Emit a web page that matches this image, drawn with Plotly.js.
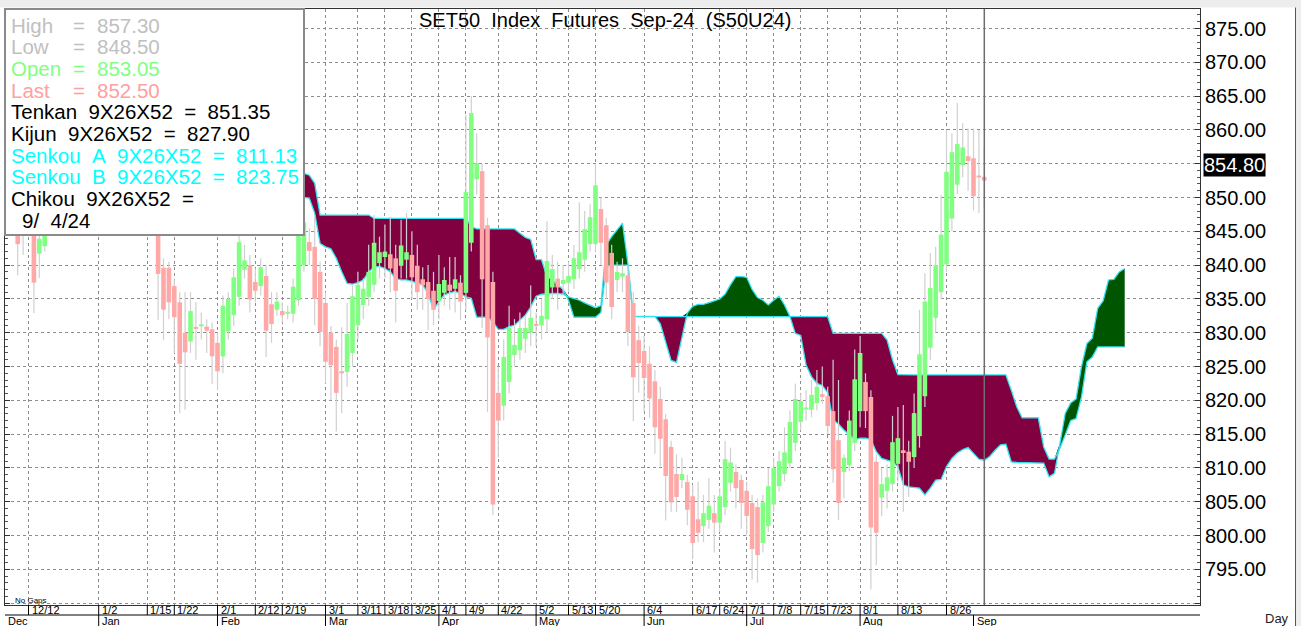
<!DOCTYPE html>
<html><head><meta charset="utf-8">
<script src="https://cdn.plot.ly/plotly-3.0.1.min.js"></script>
<style>html,body{margin:0;padding:0;background:#fff;overflow:hidden}#chart{width:1301px;height:626px}</style>
</head><body><div id="chart"></div>
<script>
// ---------------- DATA ----------------
const dates = [
 '12/4','12/6','12/7','12/8','12/12','12/13','12/14','12/15','12/18','12/19','12/20','12/21','12/22','12/25','12/26','12/27','12/28',
 '1/2','1/3','1/4','1/5','1/8','1/9','1/10','1/11','1/12','1/15','1/16','1/17','1/18','1/19','1/22','1/23','1/24','1/25','1/26','1/29','1/30','1/31',
 '2/1','2/2','2/5','2/6','2/7','2/8','2/9','2/12','2/13','2/14','2/15','2/16','2/19','2/20','2/21','2/22','2/23','2/27','2/28','2/29',
 '3/1','3/4','3/5','3/6','3/7','3/8','3/11','3/12','3/13','3/14','3/15','3/18','3/19','3/20','3/21','3/22','3/25','3/26','3/27','3/28','3/29',
 '4/1','4/2','4/3','4/4','4/5','4/9','4/10','4/11','4/17','4/18','4/19','4/22','4/23','4/24','4/25','4/26','4/29','4/30',
 '5/2','5/3','5/7','5/8','5/9','5/10','5/13','5/14','5/15','5/16','5/17','5/20','5/21','5/23','5/24','5/27','5/28','5/29','5/30','5/31',
 '6/4','6/5','6/6','6/7','6/10','6/11','6/12','6/13','6/14','6/17','6/18','6/19','6/20','6/21','6/24','6/25','6/26','6/27','6/28',
 '7/1','7/2','7/3','7/4','7/5','7/8','7/9','7/10','7/11','7/12','7/15','7/16','7/17','7/18','7/19','7/23','7/24','7/25','7/26','7/30','7/31',
 '8/1','8/2','8/5','8/6','8/7','8/8','8/9','8/13','8/14','8/15','8/16','8/19','8/20','8/21','8/22','8/23','8/26','8/27','8/28','8/29','8/30',
 '9/2','9/3','9/4'
];

const openP = [
 848.0,847.0,846.5,845.2,846.5,846.8,841.7,842.8,846.5,848.0,
 850.5,852.0,854.0,852.5,857.0,858.5,857.0,855.0,856.0,852.0,
 853.5,852.0,853.0,851.0,849.0,850.5,849.0,848.5,847.0,839.6,
 839.6,836.9,834.5,830.0,828.7,830.8,831.0,830.9,830.5,828.5,
 826.5,830.2,832.6,835.3,839.3,840.0,837.5,836.9,838.4,834.2,
 833.4,833.2,832.9,832.8,834.8,840.0,843.4,842.7,839.0,834.4,
 830.0,827.9,824.3,824.2,827.0,831.1,834.1,835.3,837.1,840.3,
 841.2,841.6,841.0,839.9,840.8,841.5,839.9,837.9,837.5,836.2,
 834.7,835.9,837.1,836.5,837.4,835.9,843.3,852.7,853.9,845.9,
 837.5,821.1,819.2,822.7,826.7,827.4,829.1,830.0,831.3,831.1,
 832.0,836.7,838.0,837.2,837.4,837.9,839.4,840.8,843.1,843.1,
 848.3,845.9,841.8,837.8,838.3,838.5,834.4,828.9,827.3,825.4,
 822.8,820.2,817.2,813.1,809.1,808.2,807.9,805.8,802.4,801.4,
 802.3,803.3,801.9,804.2,807.8,809.4,808.2,806.6,804.8,804.2,
 798.9,801.4,804.6,807.3,809.1,810.7,813.7,816.8,818.7,818.6,
 819.6,820.9,820.6,818.4,814.1,809.4,810.4,813.7,818.4,822.7,
 820.5,810.9,805.6,806.6,807.6,810.6,812.6,812.4,811.6,814.7,
 820.6,827.8,832.2,836.0,840.1,846.9,851.9,854.8,856.1,855.8,
 853.2,853.05
];
const highP = [
 850.0,849.0,848.0,847.0,848.5,847.5,845.5,847.5,849.0,851.0,
 853.0,855.0,856.0,857.5,860.0,861.0,859.0,858.0,857.5,855.0,
 856.0,854.5,855.0,853.0,852.0,853.0,851.5,850.0,848.5,841.0,
 840.5,838.0,836.0,836.0,836.0,834.5,833.0,832.0,831.5,830.0,
 835.5,836.0,839.5,846.5,843.0,841.5,839.5,841.0,840.0,836.0,
 836.0,834.5,834.0,838.0,847.0,849.0,845.5,847.0,840.5,836.0,
 831.0,829.0,830.8,834.4,837.0,839.0,838.0,843.0,847.4,844.2,
 846.0,847.1,843.0,846.7,847.7,845.0,843.0,839.7,840.0,839.0,
 841.5,839.7,841.2,841.2,838.5,862.2,865.0,859.5,855.0,847.0,
 839.0,825.0,829.0,834.0,832.0,833.0,832.5,837.0,833.0,835.0,
 846.5,841.5,840.5,840.0,840.5,843.0,849.3,848.0,849.0,854.9,
 850.0,847.0,843.0,840.5,841.0,840.0,836.0,831.0,829.5,828.0,
 824.5,822.0,818.0,814.0,812.0,811.5,809.0,807.5,808.0,806.0,
 808.5,806.0,807.0,814.0,813.0,810.5,809.0,808.0,806.0,805.5,
 806.0,810.0,811.5,812.5,816.0,818.5,822.5,821.0,821.5,823.0,
 824.5,825.0,822.0,826.0,823.0,812.0,818.5,827.5,829.5,824.0,
 821.5,812.0,810.0,810.5,817.7,819.0,819.3,814.0,821.0,833.4,
 838.8,841.8,842.7,850.4,860.0,859.5,864.0,861.0,860.2,860.2,
 860.0,857.30
];
const lowP = [
 845.5,845.2,838.5,841.5,845.3,832.9,838.1,842.0,845.5,846.5,
 849.0,850.5,851.0,852.0,855.0,856.0,853.0,852.5,851.0,849.5,
 851.0,849.0,850.5,847.5,847.0,848.0,846.5,846.0,831.9,828.9,
 832.0,827.0,818.1,818.6,827.0,826.0,829.0,827.0,822.4,821.5,
 824.0,829.0,831.0,834.0,838.0,833.0,834.5,835.5,826.4,828.5,
 832.5,831.5,832.0,831.5,834.0,839.0,840.0,831.1,828.0,822.5,
 820.0,815.4,818.1,822.0,825.0,829.0,832.0,834.0,836.0,838.0,
 838.0,836.0,831.5,838.0,838.0,835.0,833.4,833.4,830.4,831.1,
 832.0,834.0,833.4,833.0,831.9,833.3,842.0,850.4,830.7,818.3,
 803.0,811.5,817.0,821.0,825.0,826.0,827.0,828.0,828.0,829.0,
 830.0,835.0,833.4,835.5,836.0,836.5,838.0,839.0,842.0,842.0,
 840.0,835.0,832.0,836.0,836.0,828.0,816.9,821.1,818.3,817.4,
 812.1,810.2,802.2,803.5,803.5,807.0,801.5,796.5,799.0,799.0,
 801.0,797.5,800.5,803.0,806.5,804.0,801.0,800.0,793.5,793.0,
 797.5,800.5,803.5,806.5,808.0,810.0,812.5,815.5,817.0,817.5,
 818.5,819.5,815.0,807.8,802.3,805.5,809.5,812.5,816.0,815.9,
 792.0,795.6,802.9,804.0,806.5,808.0,803.5,805.7,810.0,813.0,
 819.0,826.0,830.0,835.0,839.0,845.0,850.5,853.0,851.0,848.1,
 847.7,848.50
];
const closeP = [
 847.0,846.0,843.1,846.5,847.5,837.4,843.9,846.2,848.2,850.5,
 852.0,854.3,852.5,856.8,858.5,857.0,854.5,856.5,852.0,853.8,
 851.8,853.0,851.2,849.0,850.5,849.2,848.5,847.5,838.7,833.4,
 834.5,832.3,825.4,827.1,833.2,830.6,831.2,830.3,826.5,824.3,
 834.0,835.0,838.2,843.4,840.7,834.9,836.2,839.7,830.3,831.3,
 834.6,832.6,833.0,836.8,845.6,846.3,842.1,835.0,830.1,825.7,
 825.2,821.1,824.0,829.8,835.4,837.1,836.5,839.0,843.3,841.9,
 842.0,839.5,836.2,842.9,841.9,838.2,836.0,837.0,835.0,833.4,
 837.2,837.8,836.2,837.9,834.6,850.8,862.5,855.1,837.9,829.3,
 804.6,817.0,826.4,830.7,828.2,830.7,830.7,832.2,831.0,832.5,
 840.6,839.4,836.7,837.8,838.4,841.0,841.9,845.3,847.1,851.8,
 843.3,837.4,833.8,839.0,838.8,830.1,823.4,825.5,823.3,820.3,
 816.0,814.3,808.8,804.9,805.7,809.1,803.8,798.9,800.4,803.3,
 804.4,801.9,805.8,811.3,810.8,807.0,804.8,802.9,798.0,797.1,
 804.9,807.3,810.0,811.0,812.3,816.8,820.2,819.9,818.9,820.8,
 822.0,820.5,816.2,809.8,804.8,811.5,817.0,823.1,827.0,818.4,
 801.2,800.4,807.6,808.6,813.8,814.4,812.2,810.9,818.1,826.8,
 834.6,836.6,840.0,844.5,853.8,856.7,857.9,857.4,855.4,850.2,
 853.0,852.50
];

// Ichimoku cloud (plotted 26 sessions ahead); last value sits 26 sessions after the last candle
const cloudShift = 26;
const senkouA = [
 850.5,850.4,850.3,850.2,850.1,850.1,849.9,847.7,843.2,842.7,
 842.4,841.0,839.0,837.3,837.2,837.4,837.8,839.0,839.7,839.8,
 839.5,839.0,838.0,837.8,837.8,837.6,837.4,837.1,835.8,833.4,
 834.6,835.6,835.9,836.1,835.8,835.3,835.1,832.3,832.3,832.3,
 831.6,830.5,830.5,830.9,831.1,831.9,832.6,833.8,835.4,835.7,
 835.8,835.8,835.8,835.7,835.3,835.1,834.8,834.4,834.0,833.7,
 834.0,843.0,844.2,845.2,846.2,840.2,832.4,832.4,832.4,832.4,
 832.4,831.3,828.4,825.9,825.6,829.2,832.9,833.9,834.2,834.2,
 834.4,834.7,835.0,835.7,837.1,838.3,838.3,838.2,836.4,835.2,
 834.8,834.1,834.8,835.4,834.1,832.4,829.9,829.6,825.2,823.5,
 822.5,822.2,821.1,817.1,816.5,815.6,814.9,814.2,814.4,814.4,
 814.2,812.4,811.4,811.2,810.9,810.2,807.5,807.2,807.1,807.0,
 806.0,807.0,808.2,808.3,810.2,811.4,812.2,812.7,813.0,812.2,
 811.3,811.13,811.7,812.6,813.4,813.5,810.9,810.8,810.8,810.8,
 810.8,810.8,810.7,808.7,809.2,813.6,818.1,819.6,820.2,825.0,
 828.4,829.2,833.6,834.7,837.8,837.9,839.0,839.5
];
const senkouB = [
 853.6,853.6,853.6,853.6,853.6,853.58,853.3,852.1,847.4,847.4,
 847.4,847.4,847.4,847.4,847.4,847.4,847.4,847.4,846.9,846.9,
 846.9,846.9,846.9,846.9,846.9,846.9,846.9,846.9,846.9,846.9,
 846.9,846.9,846.9,846.9,846.9,846.9,845.7,845.35,845.35,845.35,
 845.35,845.35,845.35,845.35,845.35,844.7,844.1,843.8,840.8,840.8,
 838.3,837.8,837.1,836.4,834.8,832.3,832.3,832.3,832.3,832.3,
 833.0,839.8,840.0,840.0,840.0,840.0,832.37,832.37,832.37,832.37,
 832.37,832.37,832.37,832.37,832.37,832.37,832.37,832.37,832.37,832.37,
 832.37,832.37,832.37,832.37,832.37,832.37,832.37,832.37,832.37,832.37,
 832.37,832.37,832.37,832.37,832.37,832.37,832.37,832.37,832.37,832.37,
 832.37,832.37,832.37,829.9,829.9,829.9,829.9,829.9,829.9,829.9,
 829.9,829.9,829.9,828.9,826.0,823.8,823.75,823.75,823.75,823.75,
 823.75,823.75,823.75,823.75,823.75,823.75,823.75,823.75,823.75,823.75,
 823.75,823.75,823.75,823.75,823.75,823.75,821.5,819.05,817.4,817.4,
 817.4,817.4,813.1,811.3,811.3,812.9,814.9,817.0,817.3,820.5,
 825.7,826.4,827.9,827.9,827.9,827.9,827.9,827.9
];

// axis labels
const dayTickLabels = ['12/12','1/2','1/15','1/22','2/1','2/12','2/19','3/1','3/11','3/18','3/25','4/1','4/9','4/22',
  '5/2','5/13','5/20','6/4','6/17','6/24','7/1','7/8','7/15','7/23','8/1','8/13','8/26'];
const monthNames  = ['Jan','Feb','Mar','Apr','May','Jun','Jul','Aug','Sep'];
const monthStarts = ['1/2','2/1','3/1','4/1','5/2','6/4','7/1','8/1','9/2'];
const firstMonthName = 'Dec';
const yTickValues = [790,795,800,805,810,815,820,825,830,835,840,845,850,855,860,865,870,875];
const lastPrice = 854.80;

// legend panel
const statNames  = ['High','Low','Open','Last'];
const statValues = [857.30, 848.50, 853.05, 852.50];
const statColors = ['#c0c0c0','#c0c0c0','#80ff80','#ffa0a0'];
const indNames   = ['Tenkan','Kijun','Senkou\u00a0\u00a0A','Senkou\u00a0\u00a0B','Chikou'];
const indParams  = '9X26X52';
const indValues  = [851.35, 827.90, 811.13, 823.75, null];
const indColors  = ['#000000','#000000','#00ffff','#00ffff','#000000'];
const chikouDate = '9/\u00a0\u00a04/24';
const chartTitle = 'SET50\u00a0\u00a0Index\u00a0\u00a0Futures\u00a0\u00a0Sep-24\u00a0\u00a0(S50U24)';

// ---------------- GEOMETRY (pixels of the frame) ----------------
const PL = 5, PR = 1200, PT = 9, PB = 605;
const px = x => (x - PL) / (PR - PL);
const py = y => (PB - y) / (PB - PT);
const SP = '\u00a0\u00a0';

const idx = dates.map((d, k) => k);
const cloudStart = dates.length - 1 + cloudShift - (senkouA.length - 1);
const cloudX = senkouA.map((v, j) => cloudStart + j);
const cloudTop = senkouA.map((a, j) => Math.max(a, senkouB[j]));

// candle segments (wicks + bodies) built from OHLC arrays
const wickX = [], wickY = [], upX = [], upY = [], dnX = [], dnY = [];
idx.forEach(k => {
  wickX.push(k, k, null); wickY.push(lowP[k], highP[k], null);
  const o = openP[k], c = closeP[k];
  let lo = Math.min(o, c), hi = Math.max(o, c);
  if (hi - lo < 0.28) { const m = (hi + lo) / 2; lo = m - 0.14; hi = m + 0.14; }
  if (c >= o) { upX.push(k, k, null); upY.push(lo, hi, null); }
  else { dnX.push(k, k, null); dnY.push(lo, hi, null); }
});

const none = {width: 0};
const traces = [
  {x: cloudX, y: senkouA, mode: 'lines', line: none, hoverinfo: 'skip'},
  {x: cloudX, y: cloudTop, mode: 'lines', line: none, fill: 'tonexty', fillcolor: '#800040', hoverinfo: 'skip'},
  {x: cloudX, y: senkouB, mode: 'lines', line: none, hoverinfo: 'skip'},
  {x: cloudX, y: cloudTop, mode: 'lines', line: none, fill: 'tonexty', fillcolor: '#005500', hoverinfo: 'skip'},
  {x: cloudX, y: senkouA, mode: 'lines', line: {color: '#33e3ef', width: 1.3}, hoverinfo: 'skip'},
  {x: cloudX, y: senkouB, mode: 'lines', line: {color: '#33e3ef', width: 1.3}, hoverinfo: 'skip'},
  {x: wickX, y: wickY, mode: 'lines', line: {color: '#d0d0d0', width: 1.2}, connectgaps: false, hoverinfo: 'skip'},
  {x: upX, y: upY, mode: 'lines', line: {color: '#80ff80', width: 4.6}, connectgaps: false, hoverinfo: 'skip'},
  {x: dnX, y: dnY, mode: 'lines', line: {color: '#ffa8a8', width: 4.6}, connectgaps: false, hoverinfo: 'skip'}
];

const tickIdx = dayTickLabels.map(d => dates.indexOf(d));
const monthIdx = monthStarts.map(d => dates.indexOf(d));
const xr0 = dates.indexOf('12/12') + (PL - 28.5) / 5.4;
const xr1 = dates.indexOf('12/12') + (PR - 28.5) / 5.4;

const annotations = [];
const shapes = [];
const labFont = {family: 'Liberation Sans, Arial, sans-serif', size: 11, color: '#000'};

// top title
annotations.push({xref: 'paper', yref: 'paper', x: px(604.5), y: py(20), text: chartTitle, showarrow: false,
  xanchor: 'center', yanchor: 'middle', font: {family: 'Liberation Sans, Arial, sans-serif', size: 20, color: '#000'}});

// legend box
shapes.push({type: 'rect', xref: 'paper', yref: 'paper', x0: px(5), x1: px(304), y0: py(235), y1: py(9),
  fillcolor: '#ffffff', line: {color: '#8a8a8a', width: 2}, layer: 'above'});
const rowY = [25.5, 47, 68.8, 90.3, 111.7, 133.3, 155.5, 176.7, 198.8, 220.5];
const lf = c => ({family: 'Liberation Sans, Arial, sans-serif', size: 20.5, color: c});
statNames.forEach((n, r) => {
  annotations.push({xref: 'paper', yref: 'paper', x: px(8.5), y: py(rowY[r]), text: n, showarrow: false, xanchor: 'left', yanchor: 'middle', font: lf(statColors[r])});
  annotations.push({xref: 'paper', yref: 'paper', x: px(70.5), y: py(rowY[r]), text: '=', showarrow: false, xanchor: 'left', yanchor: 'middle', font: lf(statColors[r])});
  annotations.push({xref: 'paper', yref: 'paper', x: px(94.5), y: py(rowY[r]), text: statValues[r].toFixed(2), showarrow: false, xanchor: 'left', yanchor: 'middle', font: lf(statColors[r])});
});
indNames.forEach((n, j) => {
  const r = j + 4;
  const t = n + SP + indParams + SP + '=' + (indValues[j] !== null ? SP + indValues[j].toFixed(2) : '');
  annotations.push({xref: 'paper', yref: 'paper', x: px(8.5), y: py(rowY[r]), text: t, showarrow: false, xanchor: 'left', yanchor: 'middle', font: lf(indColors[j])});
});
annotations.push({xref: 'paper', yref: 'paper', x: px(19.5), y: py(rowY[9]), text: chikouDate, showarrow: false, xanchor: 'left', yanchor: 'middle', font: lf('#000')});

// last price tag
annotations.push({xref: 'paper', yref: 'y', x: 1, y: lastPrice, xshift: 3, text: lastPrice.toFixed(2), showarrow: false,
  xanchor: 'left', yanchor: 'middle', bgcolor: '#000', borderpad: 0, font: {family: 'Liberation Sans, Arial, sans-serif', size: 20, color: '#fff'}});

// current-session marker
shapes.push({type: 'line', xref: 'x', yref: 'paper', x0: dates.length - 1, x1: dates.length - 1, y0: 0, y1: 1,
  line: {color: '#6e6e6e', width: 1.5}, layer: 'above'});

// x label rows
tickIdx.forEach((k, j) => {
  shapes.push({type: 'line', xref: 'x', yref: 'paper', x0: k, x1: k, y0: 0, y1: py(615), line: {color: '#000', width: 1}});
  annotations.push({xref: 'x', yref: 'paper', x: k, y: py(609.8), xshift: 1, text: dayTickLabels[j], showarrow: false,
    xanchor: 'left', yanchor: 'middle', font: labFont});
});
shapes.push({type: 'line', xref: 'paper', yref: 'paper', x0: 0, x1: 1, y0: py(615), y1: py(615), line: {color: '#000', width: 1}});
monthIdx.forEach((k, j) => {
  shapes.push({type: 'line', xref: 'x', yref: 'paper', x0: k, x1: k, y0: py(615), y1: py(626), line: {color: '#000', width: 1}});
  annotations.push({xref: 'x', yref: 'paper', x: k, y: py(621), xshift: 1, text: monthNames[j], showarrow: false,
    xanchor: 'left', yanchor: 'middle', font: labFont});
});
annotations.push({xref: 'paper', yref: 'paper', x: 0, y: py(621), xshift: 1, text: firstMonthName, showarrow: false,
  xanchor: 'left', yanchor: 'middle', font: labFont});
annotations.push({xref: 'paper', yref: 'paper', x: px(13), y: py(600), text: 'No Gaps', showarrow: false,
  xanchor: 'left', yanchor: 'middle', font: {family: 'Liberation Sans, Arial, sans-serif', size: 8, color: '#000'}});
annotations.push({xref: 'paper', yref: 'paper', x: px(1277), y: py(618), text: 'Day', showarrow: false,
  xanchor: 'center', yanchor: 'middle', font: {family: 'Liberation Sans, Arial, sans-serif', size: 13, color: '#222'}});

// window frame bits
shapes.push({type: 'rect', xref: 'paper', yref: 'paper', x0: px(0), x1: px(1301), y0: py(7.5), y1: py(0),
  fillcolor: '#ededed', line: {width: 0}});
shapes.push({type: 'rect', xref: 'paper', yref: 'paper', x0: px(1296), x1: px(1301), y0: py(626), y1: py(0),
  fillcolor: '#ededed', line: {width: 0}});
shapes.push({type: 'line', xref: 'paper', yref: 'paper', x0: px(1295.5), x1: px(1295.5), y0: py(626), y1: py(7.5),
  line: {color: '#555', width: 1}});

const layout = {
  width: 1301, height: 626,
  margin: {l: PL, r: 1301 - PR, t: PT, b: 626 - PB, pad: 0},
  paper_bgcolor: '#ffffff', plot_bgcolor: '#ffffff',
  showlegend: false, hovermode: false, dragmode: false,
  xaxis: {range: [xr0, xr1], tickmode: 'array', tickvals: tickIdx, showticklabels: false, ticks: '',
    showgrid: true, gridcolor: '#8c8c8c', griddash: 'dot', gridwidth: 1, zeroline: false,
    showline: true, linecolor: '#333', linewidth: 1, mirror: true, fixedrange: true},
  yaxis: {side: 'right', range: [879.216 - 0.14793 * PB, 879.216 - 0.14793 * PT], tickmode: 'array',
    tickvals: yTickValues, ticktext: yTickValues.map(v => v === 790 ? '' : v.toFixed(2)),
    tickfont: {family: 'Liberation Sans, Arial, sans-serif', size: 20, color: '#000'},
    ticks: 'inside', ticklen: 5, tickcolor: '#333',
    minor: {tickmode: 'linear', tick0: 790, dtick: 1, ticks: 'inside', ticklen: 3, tickcolor: '#555', showgrid: false},
    showgrid: true, gridcolor: '#8c8c8c', griddash: 'dot', gridwidth: 1, zeroline: false,
    showline: true, linecolor: '#333', linewidth: 1, mirror: 'ticks', fixedrange: true},
  shapes: shapes,
  annotations: annotations
};

Plotly.newPlot('chart', traces, layout, {staticPlot: true, displayModeBar: false});
</script>
</body></html>
